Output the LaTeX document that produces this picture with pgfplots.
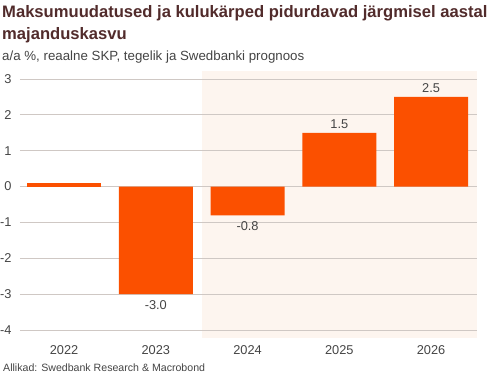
\documentclass[border=0pt]{standalone}
\usepackage{pgfplots}
\pgfplotsset{compat=1.18}
\usepackage{fontspec}
\setmainfont{Liberation Sans}
\definecolor{barc}{HTML}{FB5000}
\definecolor{titlec}{HTML}{512B2B}
\definecolor{shadec}{HTML}{FDF5EF}
\definecolor{gridc}{HTML}{CFC8C4}
\definecolor{txtc}{HTML}{444444}
\begin{document}
\begin{tikzpicture}
\path[use as bounding box] (0pt,0pt) rectangle (491pt,377pt);
\fill[shadec] (201.7pt,39pt) rectangle (477pt,306pt);
\node[anchor=base west, inner sep=0, font=\fontsize{16.6}{20}\selectfont\bfseries, text=titlec] at (2pt,359.7pt) {Maksumuudatused ja kulukärped pidurdavad järgmisel aastal};
\node[anchor=base west, inner sep=0, font=\fontsize{16.6}{20}\selectfont\bfseries, text=titlec] at (2pt,337.7pt) {majanduskasvu};
\node[anchor=base west, inner sep=0, font=\fontsize{13.3}{15}\selectfont, text=txtc] at (2pt,316.3pt) {a/a \%, reaalne SKP, tegelik ja Swedbanki prognoos};
\node[anchor=base west, inner sep=0, font=\fontsize{10.6}{13}\selectfont, text=txtc] at (3pt,5.3pt) {Allikad: Swedbank Research \& Macrobond};
\begin{axis}[
  at={(20pt,39pt)}, anchor=south west, scale only axis,
  width=457pt, height=267pt,
  xmin=-0.48, xmax=4.5, ymin=-4.223, ymax=3.223,
  axis line style={draw=none}, tick style={draw=none},
  ymajorgrids, grid style={gridc, line width=0.8pt},
  xtick={0,1,2,3,4}, xticklabels={2022,2023,2024,2025,2026},
  ytick={-4,-3,-2,-1,0,1,2,3}, yticklabels={-4,-3,-2,-1,0,1,2,3},
  ticklabel style={font=\fontsize{12.8}{15}\selectfont, text=txtc},
  yticklabel style={xshift=-5pt},
  ybar, bar width=74pt, bar shift=0pt,
]
\addplot[fill=barc, draw=none] coordinates {(0,0.1)};
\addplot[fill=barc, draw=none, point meta=explicit symbolic,
  nodes near coords={\pgfplotspointmeta},
  every node near coord/.append style={anchor=north, font=\fontsize{12.8}{15}\selectfont, text=txtc, inner sep=6pt}]
  coordinates {(1,-3.0) [-3.0] (2,-0.8) [-0.8]};
\addplot[fill=barc, draw=none, point meta=explicit symbolic,
  nodes near coords={\pgfplotspointmeta},
  every node near coord/.append style={anchor=south, font=\fontsize{12.8}{15}\selectfont, text=txtc, inner sep=4pt}]
  coordinates {(3,1.5) [1.5] (4,2.5) [2.5]};
\end{axis}
\end{tikzpicture}
\end{document}
